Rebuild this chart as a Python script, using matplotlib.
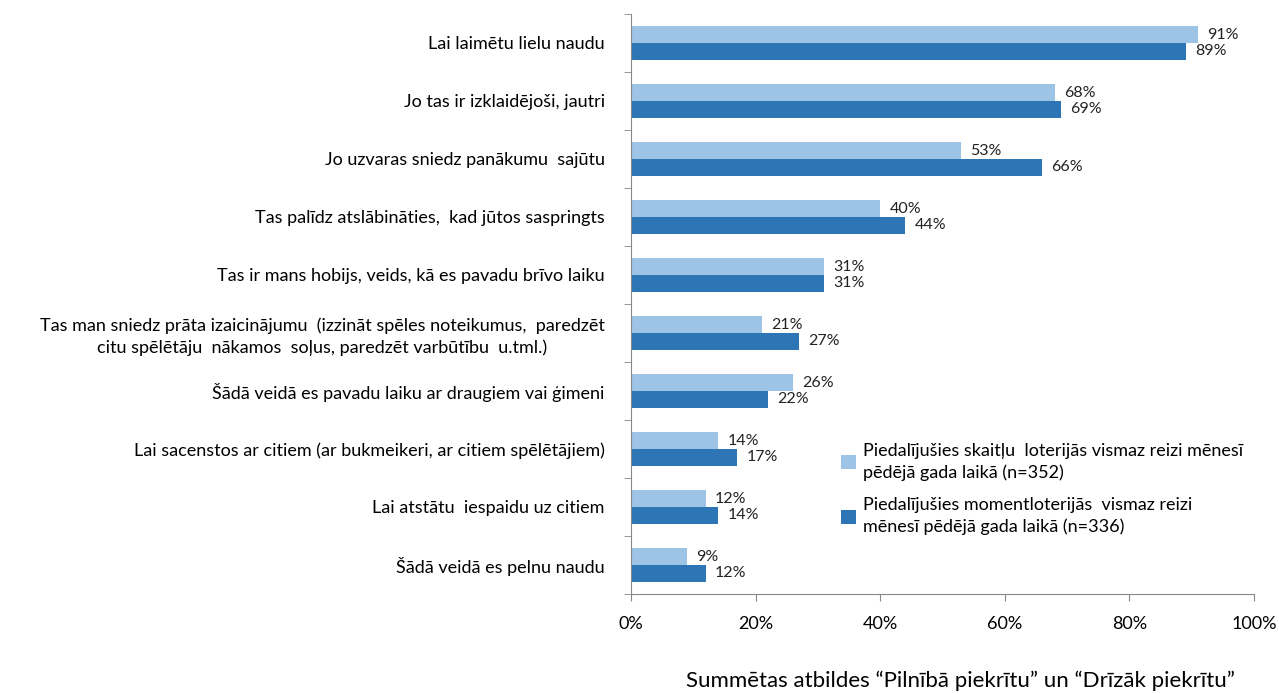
import numpy as np
import matplotlib
matplotlib.use('Agg')
import matplotlib.pyplot as plt

plt.rcParams['font.family'] = ['Lato', 'DejaVu Sans']

# Dati
categories = [
    'Lai laimētu lielu naudu',
    'Jo tas ir izklaidējoši, jautri',
    'Jo uzvaras sniedz panākumu  sajūtu',
    'Tas palīdz atslābināties,  kad jūtos saspringts',
    'Tas ir mans hobijs, veids, kā es pavadu brīvo laiku',
    'Tas man sniedz prāta izaicinājumu  (izzināt spēles noteikumus,  paredzēt\ncitu spēlētāju  nākamos  soļus, paredzēt varbūtību  u.tml.)',
    'Šādā veidā es pavadu laiku ar draugiem vai ģimeni',
    'Lai sacenstos ar citiem (ar bukmeikeri, ar citiem spēlētājiem)',
    'Lai atstātu  iespaidu uz citiem',
    'Šādā veidā es pelnu naudu',
]
skaitlu = [91, 68, 53, 40, 31, 21, 26, 14, 12, 9]
moment = [89, 69, 66, 44, 31, 27, 22, 17, 14, 12]
series_names = [
    'Piedalījušies skaitļu  loterijās vismaz reizi mēnesī\npēdējā gada laikā (n=352)',
    'Piedalījušies momentloterijās  vismaz reizi\nmēnesī pēdējā gada laikā (n=336)',
]
xlabel = 'Summētas atbildes “Pilnībā piekrītu” un “Drīzāk piekrītu”'

light = '#9DC3E6'
dark = '#2E75B6'

fig = plt.figure(figsize=(12.79, 6.93), dpi=100)
ax = fig.add_axes([0.4934, 0.1429, 0.4871, 0.8369])

n = len(categories)
y = np.arange(n)
h = 0.29
ax.barh(y - h / 2, skaitlu, height=h, color=light, label=series_names[0])
ax.barh(y + h / 2, moment, height=h, color=dark, label=series_names[1])

for yy, v in zip(y, skaitlu):
    ax.text(v + 1.5, yy - h / 2, f'{v}%', va='center', ha='left', fontsize=11.5, color='#222222')
for yy, v in zip(y, moment):
    ax.text(v + 1.5, yy + h / 2, f'{v}%', va='center', ha='left', fontsize=11.5, color='#222222')

ax.set_ylim(n - 0.5, -0.5)
ax.set_xlim(0, 100)
ax.set_xticks(np.arange(0, 101, 20))
ax.set_xticklabels([f'{t}%' for t in range(0, 101, 20)], fontsize=13)

ax.set_yticks(y)
ax.set_yticklabels(categories, fontsize=13)
for lbl in ax.get_yticklabels():
    lbl.set_multialignment('center')
    lbl.set_linespacing(1.35)
ax.tick_params(axis='y', length=0, pad=19)
ax.set_yticks(np.arange(-0.5, n, 1), minor=True)
ax.tick_params(axis='y', which='minor', length=5, color='#888888')
ax.tick_params(axis='x', length=5, color='#888888', pad=11)

for s in ['top', 'right']:
    ax.spines[s].set_visible(False)
for s in ['left', 'bottom']:
    ax.spines[s].set_color('#888888')

fig.text(0.751, 0.003, xlabel, ha='center', va='bottom', fontsize=16)

leg = ax.legend(loc='upper left', bbox_to_anchor=(0.645, 0.384), bbox_transform=fig.transFigure,
                frameon=False, fontsize=13, handlelength=0.8, handleheight=0.8,
                handletextpad=0.4, labelspacing=0.9)
for t in leg.get_texts():
    t.set_linespacing(1.4)

fig.savefig('out.png', dpi=100)
